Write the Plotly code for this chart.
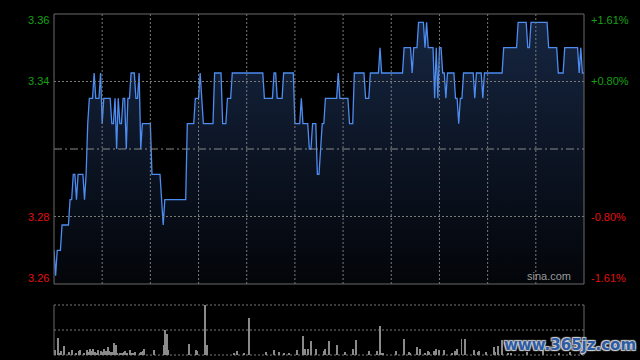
import plotly.graph_objects as go

# ---------------- data ----------------
PREV_CLOSE = 3.31
MAX_PCT = 0.0161          # half-range of the price axis, as fraction of prev close

# one price per minute, 330 trading minutes (HK session 9:30-12:00, 13:00-16:00)
prices = [
    3.27, 3.26, 3.27, 3.27, 3.27, 3.28, 3.28, 3.28, 3.28, 3.28,
    3.29, 3.29, 3.30, 3.30, 3.29, 3.30, 3.30, 3.30, 3.30, 3.29,
    3.30, 3.32, 3.33, 3.33, 3.33, 3.34, 3.33, 3.33, 3.33, 3.34,
    3.32, 3.33, 3.33, 3.33, 3.33, 3.33, 3.32, 3.32, 3.33, 3.31,
    3.33, 3.32, 3.32, 3.33, 3.33, 3.31, 3.33, 3.33, 3.34, 3.34,
    3.34, 3.33, 3.33, 3.34, 3.31, 3.32, 3.32, 3.32, 3.32, 3.32,
    3.32, 3.30, 3.30, 3.30, 3.30, 3.30, 3.30, 3.29, 3.28, 3.29,
    3.29, 3.29, 3.29, 3.29, 3.29, 3.29, 3.29, 3.29, 3.29, 3.29,
    3.29, 3.29, 3.29, 3.32, 3.32, 3.32, 3.32, 3.32, 3.33, 3.33,
    3.33, 3.34, 3.33, 3.32, 3.32, 3.32, 3.32, 3.32, 3.32, 3.32,
    3.34, 3.34, 3.34, 3.34, 3.34, 3.32, 3.32, 3.32, 3.33, 3.33,
    3.33, 3.34, 3.34, 3.34, 3.34, 3.34, 3.34, 3.34, 3.34, 3.34,
    3.34, 3.34, 3.34, 3.34, 3.34, 3.34, 3.34, 3.34, 3.34, 3.34,
    3.34, 3.33, 3.33, 3.33, 3.33, 3.33, 3.33, 3.34, 3.34, 3.33,
    3.33, 3.33, 3.33, 3.34, 3.34, 3.34, 3.34, 3.34, 3.34, 3.34,
    3.32, 3.32, 3.32, 3.32, 3.33, 3.32, 3.32, 3.32, 3.32, 3.31,
    3.31, 3.32, 3.32, 3.32, 3.30, 3.30, 3.31, 3.32, 3.32, 3.33,
    3.33, 3.33, 3.33, 3.33, 3.33, 3.33, 3.33, 3.34, 3.33, 3.33,
    3.33, 3.33, 3.33, 3.33, 3.32, 3.32, 3.32, 3.34, 3.34, 3.34,
    3.34, 3.34, 3.34, 3.34, 3.33, 3.33, 3.33, 3.34, 3.34, 3.34,
    3.34, 3.34, 3.34, 3.35, 3.34, 3.34, 3.34, 3.34, 3.34, 3.34,
    3.34, 3.34, 3.34, 3.34, 3.34, 3.34, 3.34, 3.34, 3.35, 3.35,
    3.35, 3.35, 3.35, 3.34, 3.35, 3.35, 3.35, 3.36, 3.36, 3.36,
    3.36, 3.35, 3.36, 3.35, 3.35, 3.35, 3.35, 3.33, 3.35, 3.33,
    3.35, 3.35, 3.34, 3.34, 3.33, 3.34, 3.34, 3.34, 3.34, 3.34,
    3.33, 3.33, 3.32, 3.33, 3.33, 3.34, 3.34, 3.34, 3.34, 3.34,
    3.34, 3.34, 3.33, 3.34, 3.34, 3.34, 3.34, 3.33, 3.34, 3.34,
    3.34, 3.34, 3.34, 3.34, 3.34, 3.34, 3.34, 3.34, 3.34, 3.34,
    3.35, 3.35, 3.35, 3.35, 3.35, 3.35, 3.35, 3.35, 3.35, 3.36,
    3.36, 3.36, 3.36, 3.36, 3.36, 3.35, 3.35, 3.36, 3.36, 3.36,
    3.36, 3.36, 3.36, 3.36, 3.36, 3.36, 3.36, 3.36, 3.35, 3.35,
    3.35, 3.35, 3.35, 3.35, 3.34, 3.34, 3.34, 3.34, 3.35, 3.35,
    3.35, 3.35, 3.35, 3.35, 3.35, 3.35, 3.35, 3.34, 3.35, 3.34,
    3.34,
]
minutes = list(range(len(prices)))

vol_minutes = [0, 2, 3, 4, 6, 9, 11, 13, 15, 16, 18, 20, 21, 22, 23, 24, 25, 26, 27, 29,
               30, 31, 32, 33, 34, 35, 36, 37, 38, 39, 41, 42, 43, 44, 45, 47, 48, 49, 50, 53,
               54, 55, 56, 62, 68, 69, 70, 71, 84, 88, 89, 94, 95,
               112, 114, 118, 121, 132, 137, 140, 143, 146, 151, 155, 156, 158, 160, 163, 168, 169,
               171, 176, 181, 186, 188, 196, 201, 203, 204, 205, 213, 218, 221, 222, 226, 228, 231,
               233, 234, 237, 238, 240, 243, 248, 250, 251, 254, 256, 262, 264, 265, 269, 274, 275,
               277, 279, 283, 285, 295, 305, 315, 322, 329]
vol_values = [47, 167, 20, 37, 87, 27, 53, 17, 37, 47, 13, 47, 33, 63, 37, 63, 33, 20, 47, 40,
              27, 57, 37, 77, 37, 27, 27, 117, 97, 17, 17, 17, 27, 37, 17, 47, 17, 17, 27, 17,
              27, 37, 57, 47, 97, 253, 207, 47, 107, 47, 37, 497, 97,
              17, 37, 17, 367, 27, 47, 27, 17, 17, 47, 187, 57, 57, 137, 57, 37, 57,
              137, 97, 27, 57, 147, 37, 37, 287, 17, 17, 37, 157, 27, 17, 77, 57, 17,
              37, 27, 37, 57, 47, 47, 17, 37, 57, 157, 157, 47, 27, 37, 27, 77, 27,
              87, 147, 17, 17, 30, 40, 25, 30, 50]
VOL_MAX = 500

left_labels = ["3.36", "3.34", "3.28", "3.26"]
right_labels = ["+1.61%", "+0.80%", "-0.80%", "-1.61%"]
label_fracs = [1.0, 0.5, -0.5, -1.0]
grid_minutes = [30, 60, 90, 120, 150, 180, 210, 240, 270, 300]

# ---------------- layout constants ----------------
W, H = 640, 360
X0, X1 = 54, 584
MAIN_T, MAIN_B = 14, 284
VOL_T, VOL_B = 305, 355
GREEN = "#16a016"
RED = "#e01010"
GRID = "#7a7a7a"
BORDER = "#6a6a6a"
FONT = "Liberation Sans, Arial, sans-serif"

half = PREV_CLOSE * MAX_PCT
y_lo, y_hi = PREV_CLOSE - half, PREV_CLOSE + half

fig = go.Figure()

fig.add_trace(go.Scatter(
    x=minutes, y=prices, mode="lines",
    line=dict(color="#4d8cf0", width=1.3),
    fill="tozeroy",
    fillgradient=dict(type="vertical", start=y_lo, stop=y_hi,
                      colorscale=[[0, "rgb(3,5,9)"], [1, "rgb(22,38,66)"]]),
    xaxis="x", yaxis="y", hoverinfo="skip", showlegend=False,
))

fig.add_trace(go.Bar(
    x=vol_minutes, y=vol_values, width=0.6,
    marker=dict(color="#8a8a8a", line=dict(width=0)),
    xaxis="x2", yaxis="y2", hoverinfo="skip", showlegend=False,
))

xd = [X0 / W, X1 / W]
fig.update_layout(
    width=W, height=H,
    margin=dict(l=0, r=0, t=0, b=0),
    paper_bgcolor="#000000", plot_bgcolor="rgba(0,0,0,0)",
    bargap=0,
    xaxis=dict(domain=xd, range=[0, len(prices) - 1], showticklabels=False,
               showgrid=False, zeroline=False, showline=False, ticks=""),
    yaxis=dict(domain=[1 - MAIN_B / H, 1 - MAIN_T / H], range=[y_lo, y_hi],
               showticklabels=False, showgrid=False, zeroline=False, showline=False, ticks=""),
    xaxis2=dict(domain=xd, range=[-0.5, len(prices) - 0.5], showticklabels=False,
                showgrid=False, zeroline=False, showline=False, anchor="y2"),
    yaxis2=dict(domain=[1 - VOL_B / H, 1 - VOL_T / H], range=[0, VOL_MAX],
                showticklabels=False, showgrid=False, zeroline=False, showline=False,
                anchor="x2"),
)

shapes = []
dot = dict(color=GRID, width=1, dash="2px,2px")
# main panel gridlines drawn above the fill
for gm in grid_minutes:
    shapes.append(dict(type="line", xref="x", yref="y domain", x0=gm, x1=gm, y0=0, y1=1,
                       line=dot, layer="above"))
for f in (0.5, -0.5):
    yv = PREV_CLOSE + half * f
    shapes.append(dict(type="line", xref="x domain", yref="y", x0=0, x1=1, y0=yv, y1=yv,
                       line=dot, layer="above"))
# previous close line
shapes.append(dict(type="line", xref="x domain", yref="y", x0=0, x1=1,
                   y0=PREV_CLOSE, y1=PREV_CLOSE,
                   line=dict(color="#8a8a8a", width=1, dash="8px,3px,2px,3px"), layer="above"))
# main panel border
shapes.append(dict(type="rect", xref="x domain", yref="y domain", x0=0, x1=1, y0=0, y1=1,
                   line=dict(color=BORDER, width=1), fillcolor="rgba(0,0,0,0)", layer="above"))
# volume panel: solid side borders, dotted top, middle & bottom
for xv in (0, 1):
    shapes.append(dict(type="line", xref="x2 domain", yref="y2 domain", x0=xv, x1=xv, y0=0, y1=1,
                       line=dict(color=BORDER, width=1), layer="above"))
for yv in (0, 0.5, 1):
    shapes.append(dict(type="line", xref="x2 domain", yref="y2 domain", x0=0, x1=1, y0=yv, y1=yv,
                       line=dot, layer="below"))
fig.update_layout(shapes=shapes)

ann = []
for lab_l, lab_r, f in zip(left_labels, right_labels, label_fracs):
    col = GREEN if f > 0 else RED
    yshift = -6 if f == 1.0 else (6 if f == -1.0 else 0)
    yv = PREV_CLOSE + half * f
    ann.append(dict(text=lab_l, xref="paper", yref="y", x=(X0 - 3) / W, y=yv,
                    xanchor="right", yanchor="middle", yshift=yshift, showarrow=False,
                    font=dict(family=FONT, size=11, color=col)))
    ann.append(dict(text=lab_r, xref="paper", yref="y", x=(X1 + 5) / W, y=yv,
                    xanchor="left", yanchor="middle", yshift=yshift, showarrow=False,
                    font=dict(family=FONT, size=11, color=col)))
ann.append(dict(text="sina.com", xref="x domain", yref="y domain", x=0.98, y=0.0,
                xanchor="right", yanchor="bottom", yshift=0, showarrow=False,
                font=dict(family=FONT, size=11, color="#9a9a9a")))
ann.append(dict(text="<b>www.365jz.com</b>", xref="paper", yref="paper", x=0.997, y=1 - 345 / H,
                xanchor="right", yanchor="middle", showarrow=False,
                font=dict(family="DejaVu Sans, sans-serif", size=15, color="#2c5ba6",
                          shadow="1px 1px 1px #cfcfcf, -1px -1px 1px #cfcfcf, 1px -1px 1px #cfcfcf, -1px 1px 1px #cfcfcf")))
fig.update_layout(annotations=ann)

fig.write_html("out.html")
